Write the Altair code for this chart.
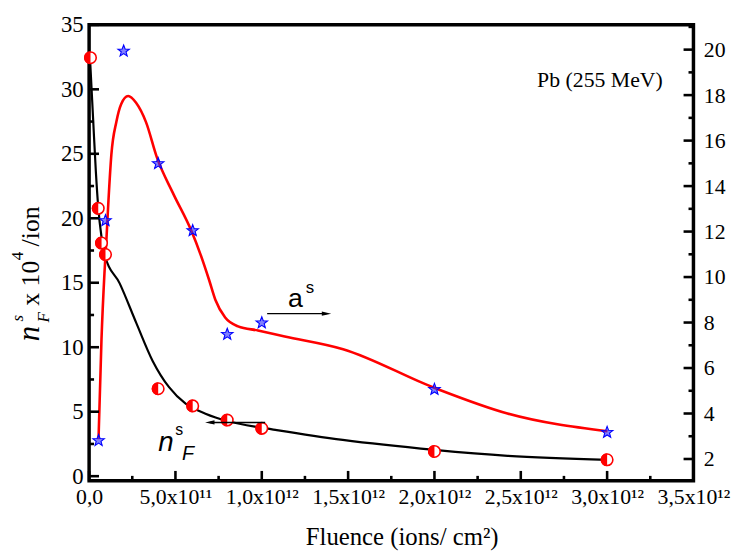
import altair as alt
import pandas as pd

# ---------------- data (fluence in units of 1e12 ions/cm2) ----------------
fluence_nF = [0.008, 0.053, 0.072, 0.095, 0.4, 0.6, 0.8, 1.0, 2.0, 3.0]
nF_values = [32.45, 20.77, 18.08, 17.19, 6.78, 5.45, 4.35, 3.71, 1.92, 1.27]

fluence_as = [0.055, 0.095, 0.2, 0.4, 0.6, 0.8, 1.0, 2.0, 3.0]
as_values = [2.81, 12.48, 19.94, 14.99, 12.04, 7.48, 7.99, 5.06, 3.17]

fit_nF_fluence = [0.005, 0.024, 0.039, 0.053, 0.072, 0.091, 0.177, 0.273, 0.368,
                  0.463, 0.559, 0.674, 0.807, 0.999, 1.087, 1.469, 2.0, 2.424, 3.003]
fit_nF_values = [32.46, 27.48, 23.64, 20.83, 18.53, 17.12, 14.95, 11.89, 8.94,
                 6.90, 5.62, 4.85, 4.26, 3.76, 3.57, 2.81, 2.04, 1.58, 1.27]

fit_as_fluence = [0.0545, 0.0717, 0.0889, 0.100, 0.112, 0.129, 0.158, 0.186, 0.226,
                  0.272, 0.330, 0.393, 0.485, 0.594, 0.645, 0.695, 0.731, 0.788,
                  0.863, 0.978, 1.133, 1.471, 1.999, 2.423, 3.002]
fit_as_values = [2.87, 7.26, 10.17, 11.61, 13.35, 15.39, 16.83, 17.61, 17.96,
                 17.66, 16.80, 15.25, 13.70, 12.00, 11.00, 9.87, 9.00, 8.22,
                 7.83, 7.65, 7.39, 6.83, 5.13, 4.00, 3.22]

x_major = [0, 0.5, 1.0, 1.5, 2.0, 2.5, 3.0, 3.5]
x_minor = [0.25, 0.75, 1.25, 1.75, 2.25, 2.75, 3.25]
left_major = [0, 5, 10, 15, 20, 25, 30, 35]
left_minor = [2.5, 7.5, 12.5, 17.5, 22.5, 27.5, 32.5]
right_major = [2, 4, 6, 8, 10, 12, 14, 16, 18, 20]
right_minor = [3, 5, 7, 9, 11, 13, 15, 17, 19, 21]

# ---------------- chart ----------------
W, H = 611, 461
SERIF = "Liberation Serif"
SANS = "Liberation Sans"

df_nF = pd.DataFrame({"x": fluence_nF, "y": nF_values})
df_as = pd.DataFrame({"x": fluence_as, "y": as_values})
df_fit_nF = pd.DataFrame({"x": fit_nF_fluence, "y": fit_nF_values})
df_fit_as = pd.DataFrame({"x": fit_as_fluence, "y": fit_as_values})

x_label_expr = ("datum.value == 0 ? '0,0' : (datum.value < 1 ? '5,0x10\u00b9\u00b9' : "
                "replace(format(datum.value, '.1f'), '.', ',') + 'x10\u00b9\u00b2')")

X = alt.X("x:Q", scale=alt.Scale(domain=[0, 3.5], nice=False, zero=False),
          axis=alt.Axis(orient="bottom", values=x_major, ticks=False, domain=False,
                        grid=False, labelExpr=x_label_expr, labelFont=SERIF,
                        labelFontSize=22, labelColor="black", labelPadding=6,
                        labelFlush=False, labelOverlap=False,
                        title="Fluence (ions/ cm\u00b2)", titleFont=SERIF,
                        titleFontSize=25, titleFontWeight="normal", titleColor="black",
                        titleX=316, titleY=64, titleAlign="center",
                        titleBaseline="alphabetic"))

left_scale = alt.Scale(domain=[-0.36, 35], nice=False, zero=False)
right_scale = alt.Scale(domain=[1.04, 21.09], nice=False, zero=False)

YL = alt.Y("y:Q", scale=left_scale,
           axis=alt.Axis(orient="left", values=left_major, ticks=False, domain=False,
                         grid=False, labelFont=SERIF, labelFontSize=23,
                         labelColor="black", labelPadding=6, title=None))
YR = alt.Y("y:Q", scale=right_scale,
           axis=alt.Axis(orient="right", values=right_major, ticks=False, domain=False,
                         grid=False, labelFont=SERIF, labelFontSize=22,
                         labelColor="black", labelPadding=10, title=None))
YL_n = alt.Y("y:Q", scale=left_scale, axis=None)
YR_n = alt.Y("y:Q", scale=right_scale, axis=None)


def tick_df(vals):
    return pd.DataFrame({"x": vals, "y": vals})


RULE = dict(color="black", strokeWidth=2.6)

# inward ticks
xt_major = alt.Chart(tick_df(x_major)).mark_rule(**RULE).encode(
    x=X, y=alt.value(H), y2=alt.value(H - 10))
xt_minor = alt.Chart(tick_df(x_minor)).mark_rule(**RULE).encode(
    x=X, y=alt.value(H), y2=alt.value(H - 5))
lt_major = alt.Chart(tick_df(left_major)).mark_rule(**RULE).encode(
    y=YL_n, x=alt.value(0), x2=alt.value(10))
lt_minor = alt.Chart(tick_df(left_minor)).mark_rule(**RULE).encode(
    y=YL_n, x=alt.value(0), x2=alt.value(5))
rt_major = alt.Chart(tick_df(right_major)).mark_rule(**RULE).encode(
    y=YR_n, x=alt.value(W), x2=alt.value(W - 10))
rt_minor = alt.Chart(tick_df(right_minor)).mark_rule(**RULE).encode(
    y=YR_n, x=alt.value(W), x2=alt.value(W - 5))

black_curve = alt.Chart(df_fit_nF).mark_line(color="black", strokeWidth=2.2,
                                             interpolate="monotone").encode(x=X, y=YL)
red_curve = alt.Chart(df_fit_as).mark_line(color="#ff0000", strokeWidth=2.6,
                                           interpolate="monotone").encode(x=X, y=YR)

STAR = ("M0,-1L0.247,-0.34L0.951,-0.309L0.399,0.13L0.588,0.809L0,0.42"
        "L-0.588,0.809L-0.399,0.13L-0.951,-0.309L-0.247,-0.34Z")
stars = alt.Chart(df_as).mark_point(shape=STAR, size=150, filled=True,
                                    fill="#2a2aff", fillOpacity=0.6,
                                    stroke="#0000ff", strokeWidth=1.1,
                                    opacity=1).encode(x=X, y=YR_n)

circ_bg = alt.Chart(df_nF).mark_point(shape="circle", size=135, filled=True,
                                      fill="white", stroke="#ff0000", strokeWidth=1.6,
                                      opacity=1).encode(x=X, y=YL_n)
HALF = "M0,-1A1,1,0,0,0,0,1Z"
circ_half = alt.Chart(df_nF).mark_point(shape=HALF, size=170, filled=True,
                                        fill="#ff0000", opacity=1).encode(x=X, y=YL_n)

one = pd.DataFrame({"k": [0]})


def txt(s, px, py, size, font=SERIF, style="normal", align="left", angle=0):
    kw = dict(text=s, font=font, fontSize=size, fontStyle=style, align=align,
              baseline="alphabetic", color="black")
    if angle:
        kw["angle"] = angle
    return alt.Chart(one).mark_text(**kw).encode(x=alt.value(px), y=alt.value(py))


def hline(x1, x2, yy):
    return alt.Chart(one).mark_rule(color="black", strokeWidth=1.4).encode(
        x=alt.value(x1), x2=alt.value(x2), y=alt.value(yy))


def head(px, py, path):
    return alt.Chart(one).mark_point(shape=path, size=90, filled=True, fill="black",
                                     opacity=1).encode(x=alt.value(px), y=alt.value(py))


RIGHT_HEAD = "M1,0L-1,-0.45L-1,0.45Z"
LEFT_HEAD = "M-1,0L1,-0.45L1,0.45Z"

annotations = [
    txt("Pb (255 MeV)", 580, 63, 22, align="right"),
    txt("a", 201, 285, 27, font=SANS),
    txt("s", 219, 271, 17, font=SANS),
    hline(180, 240, 292), head(240, 292, RIGHT_HEAD),
    txt("n", 70, 431, 28, font=SANS, style="italic"),
    txt("s", 87, 415, 16, font=SANS),
    txt("F", 94, 440, 20, font=SANS, style="italic"),
    hline(122, 178, 402), head(122, 402, LEFT_HEAD),
    # rotated y-axis title
    txt("n", -51, 320, 31, style="italic", angle=270),
    txt("F", -41, 301, 17, style="italic", angle=270),
    txt("s", -67, 300, 17, style="italic", angle=270),
    txt("x 10", -51, 284, 26, angle=270),
    txt("4", -67, 238, 17, angle=270),
    txt("/ion", -51, 224, 26, angle=270),
]

chart = alt.layer(
    black_curve, red_curve,
    xt_major, xt_minor, lt_major, lt_minor, rt_major, rt_minor,
    stars, circ_bg, circ_half,
    *annotations,
).resolve_scale(
    y="independent"
).properties(
    width=W, height=H,
    autosize=alt.AutoSizeParams(type="none"),
    padding={"left": 82, "top": 14, "right": 42, "bottom": 75},
).configure_view(stroke="black", strokeWidth=3.5)

chart.save("out.html", embed_options={"renderer": "svg", "actions": False})
